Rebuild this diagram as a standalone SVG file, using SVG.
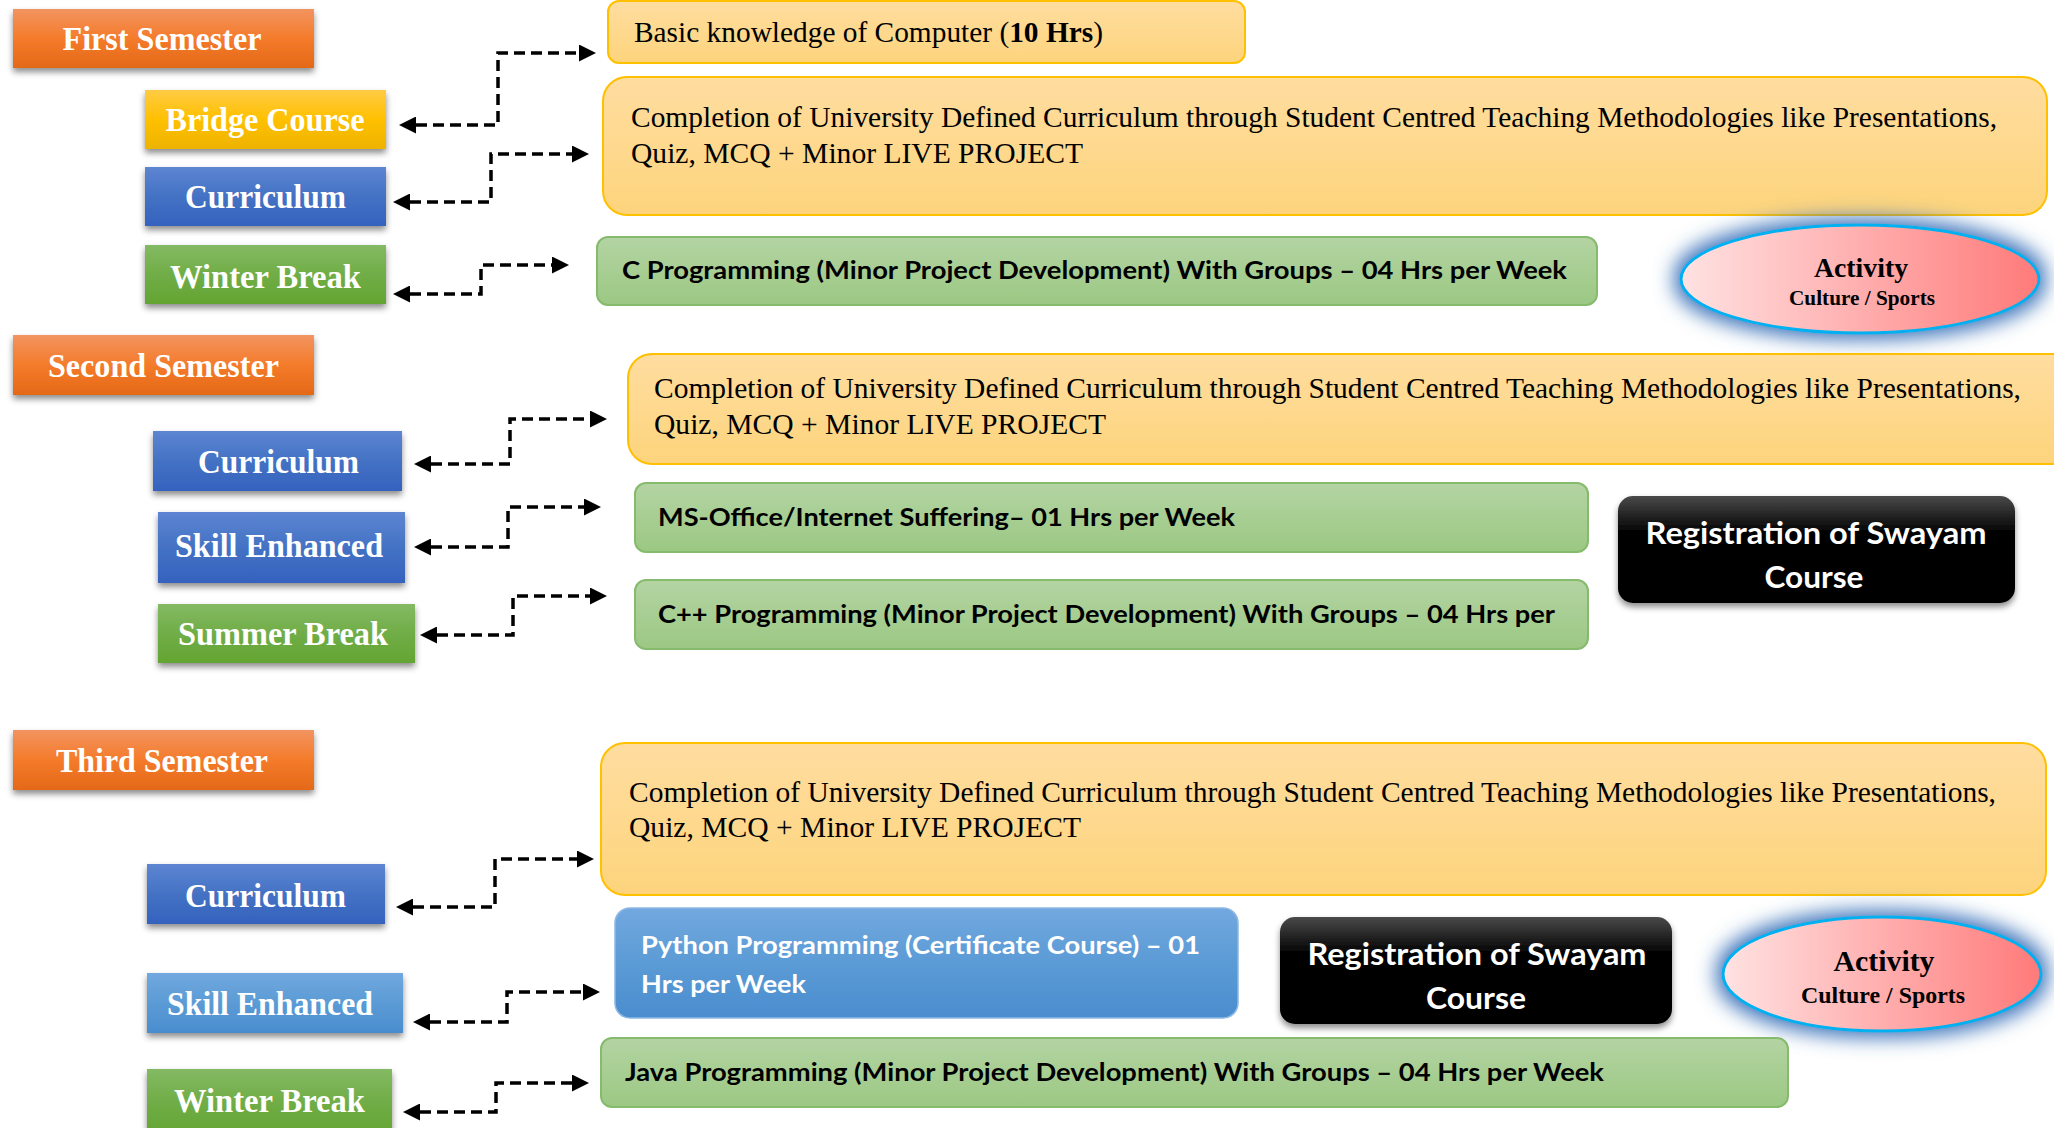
<svg xmlns="http://www.w3.org/2000/svg" width="2054" height="1128" viewBox="0 0 2054 1128">
<defs>
<linearGradient id="gOrange" x1="0" y1="0" x2="0" y2="1"><stop offset="0" stop-color="#F29460"/><stop offset="0.5" stop-color="#F47B2A"/><stop offset="1" stop-color="#E46918"/></linearGradient>
<linearGradient id="gYellow" x1="0" y1="0" x2="0" y2="1"><stop offset="0" stop-color="#FFCB45"/><stop offset="0.5" stop-color="#FFC000"/><stop offset="1" stop-color="#EDB300"/></linearGradient>
<linearGradient id="gBlue" x1="0" y1="0" x2="0" y2="1"><stop offset="0" stop-color="#5D85D2"/><stop offset="0.5" stop-color="#4472C4"/><stop offset="1" stop-color="#3462BE"/></linearGradient>
<linearGradient id="gGreen" x1="0" y1="0" x2="0" y2="1"><stop offset="0" stop-color="#84BA63"/><stop offset="0.5" stop-color="#70AD47"/><stop offset="1" stop-color="#63A532"/></linearGradient>
<linearGradient id="gLBlue" x1="0" y1="0" x2="0" y2="1"><stop offset="0" stop-color="#72A8DF"/><stop offset="0.5" stop-color="#5B9BD5"/><stop offset="1" stop-color="#4A8DCF"/></linearGradient>
<linearGradient id="gPeach" x1="0" y1="0" x2="0" y2="1"><stop offset="0" stop-color="#FFDDA0"/><stop offset="1" stop-color="#FDD47C"/></linearGradient>
<linearGradient id="gGreenBox" x1="0" y1="0" x2="0" y2="1"><stop offset="0" stop-color="#B4D4A3"/><stop offset="1" stop-color="#9BC883"/></linearGradient>
<linearGradient id="gBlack" x1="0" y1="0" x2="0" y2="1"><stop offset="0" stop-color="#4A4A4A"/><stop offset="0.35" stop-color="#000"/><stop offset="1" stop-color="#000"/></linearGradient>
<linearGradient id="gPink" x1="0" y1="0" x2="1" y2="0"><stop offset="0" stop-color="#FFE2E2"/><stop offset="1" stop-color="#FF7A7A"/></linearGradient>
<filter id="shadow" x="-10%" y="-20%" width="120%" height="160%"><feDropShadow dx="0" dy="4" stdDeviation="3" flood-color="#000" flood-opacity="0.45"/></filter>
<filter id="glow" x="-30%" y="-70%" width="160%" height="240%"><feMorphology in="SourceAlpha" operator="dilate" radius="5" result="d"/><feGaussianBlur in="d" stdDeviation="10" result="b"/><feFlood flood-color="#3A72BA" flood-opacity="1"/><feComposite in2="b" operator="in" result="g"/><feMerge><feMergeNode in="g"/><feMergeNode in="SourceGraphic"/></feMerge></filter>
<marker id="arr" markerUnits="userSpaceOnUse" markerWidth="17" markerHeight="17" refX="0" refY="8.5" orient="auto-start-reverse"><path d="M0,0 L17,8.5 L0,17 z" fill="#000"/></marker>
<style>
.lbl{font-family:"Liberation Serif","Times New Roman",serif;font-weight:bold;font-size:33px;fill:#fff;text-anchor:middle}
.body{font-family:"Liberation Serif","Times New Roman",serif;font-size:30px;fill:#000}
.sans{font-family:Lato,"Liberation Sans",sans-serif;font-weight:bold;font-size:25px;fill:#000}
.reg{font-family:Lato,"Liberation Sans",sans-serif;font-weight:bold;font-size:30px;fill:#fff;text-anchor:middle}
.act{font-family:"Liberation Serif","Times New Roman",serif;font-weight:bold;fill:#000;text-anchor:middle}
.peach{fill:url(#gPeach);stroke:#FFC000;stroke-width:2}
.gbox{fill:url(#gGreenBox);stroke:#86BA6C;stroke-width:2}
.conn{fill:none;stroke:#000;stroke-width:3.5;stroke-dasharray:11 6;marker-start:url(#arr);marker-end:url(#arr)}
</style>
</defs>
<rect width="2054" height="1128" fill="#fff"/>

<!-- First semester -->
<g id="first-semester"><rect x="13" y="9" width="301" height="59" fill="url(#gOrange)" filter="url(#shadow)"/><text class="lbl" x="162" y="50" textLength="199" lengthAdjust="spacingAndGlyphs">First Semester</text></g>
<g id="bridge-course"><rect x="145" y="90" width="241" height="59" fill="url(#gYellow)" filter="url(#shadow)"/><text class="lbl" x="265" y="131" textLength="199" lengthAdjust="spacingAndGlyphs">Bridge Course</text></g>
<g id="curriculum-1"><rect x="145" y="167" width="241" height="59" fill="url(#gBlue)" filter="url(#shadow)"/><text class="lbl" x="265.5" y="208" textLength="161" lengthAdjust="spacingAndGlyphs">Curriculum</text></g>
<g id="winter-break-1"><rect x="145" y="245" width="241" height="59" fill="url(#gGreen)" filter="url(#shadow)"/><text class="lbl" x="265.5" y="288" textLength="191" lengthAdjust="spacingAndGlyphs">Winter Break</text></g>

<g id="basic-knowledge"><rect class="peach" x="608" y="1" width="637" height="62" rx="11"/><text class="body" x="634" y="42" textLength="469" lengthAdjust="spacingAndGlyphs">Basic knowledge of Computer (<tspan font-weight="bold">10 Hrs</tspan>)</text></g>
<g id="curriculum-desc-1"><rect class="peach" x="603" y="77" width="1444" height="138" rx="24"/><text class="body" x="631" y="127" textLength="1366" lengthAdjust="spacingAndGlyphs">Completion of University Defined Curriculum through Student Centred Teaching Methodologies like Presentations,</text><text class="body" x="631" y="163" textLength="452" lengthAdjust="spacingAndGlyphs">Quiz, MCQ + Minor LIVE PROJECT</text></g>
<g id="c-programming"><rect class="gbox" x="597" y="237" width="1000" height="68" rx="11"/><text class="sans" x="622" y="279" textLength="945" lengthAdjust="spacingAndGlyphs">C Programming (Minor Project Development) With Groups – 04 Hrs per Week</text></g>
<g id="activity-1"><ellipse cx="1860" cy="279" rx="179" ry="54" fill="url(#gPink)" stroke="#00B0F0" stroke-width="3" filter="url(#glow)"/><text class="act" x="1861" y="277" font-size="27" textLength="94" lengthAdjust="spacingAndGlyphs">Activity</text><text class="act" x="1862" y="305" font-size="21" textLength="146" lengthAdjust="spacingAndGlyphs">Culture / Sports</text></g>

<!-- Second semester -->
<g id="second-semester"><rect x="13" y="335" width="301" height="60" fill="url(#gOrange)" filter="url(#shadow)"/><text class="lbl" x="163.5" y="377" textLength="231" lengthAdjust="spacingAndGlyphs">Second Semester</text></g>
<g id="curriculum-2"><rect x="153" y="431" width="249" height="60" fill="url(#gBlue)" filter="url(#shadow)"/><text class="lbl" x="278.5" y="473" textLength="161" lengthAdjust="spacingAndGlyphs">Curriculum</text></g>
<g id="skill-enhanced-2"><rect x="158" y="512" width="247" height="71" fill="url(#gBlue)" filter="url(#shadow)"/><text class="lbl" x="279" y="557" textLength="208" lengthAdjust="spacingAndGlyphs">Skill Enhanced</text></g>
<g id="summer-break"><rect x="158" y="604" width="257" height="59" fill="url(#gGreen)" filter="url(#shadow)"/><text class="lbl" x="283" y="645" textLength="210" lengthAdjust="spacingAndGlyphs">Summer Break</text></g>

<g id="curriculum-desc-2"><rect class="peach" x="628" y="354" width="1450" height="110" rx="24"/><text class="body" x="654" y="398" textLength="1367" lengthAdjust="spacingAndGlyphs">Completion of University Defined Curriculum through Student Centred Teaching Methodologies like Presentations,</text><text class="body" x="654" y="434" textLength="452" lengthAdjust="spacingAndGlyphs">Quiz, MCQ + Minor LIVE PROJECT</text></g>
<g id="ms-office"><rect class="gbox" x="635" y="483" width="953" height="69" rx="11"/><text class="sans" x="658" y="526" textLength="577" lengthAdjust="spacingAndGlyphs">MS-Office/Internet Suffering– 01 Hrs per Week</text></g>
<g id="cpp-programming"><rect class="gbox" x="635" y="580" width="953" height="69" rx="11"/><text class="sans" x="658" y="623" textLength="897" lengthAdjust="spacingAndGlyphs">C++ Programming (Minor Project Development) With Groups – 04 Hrs per</text></g>
<g id="swayam-1"><rect x="1618" y="496" width="397" height="107" rx="15" fill="url(#gBlack)" filter="url(#shadow)"/><text class="reg" x="1816" y="544" textLength="341" lengthAdjust="spacingAndGlyphs">Registration of Swayam</text><text class="reg" x="1814" y="588" textLength="99" lengthAdjust="spacingAndGlyphs">Course</text></g>

<!-- Third semester -->
<g id="third-semester"><rect x="13" y="730" width="301" height="60" fill="url(#gOrange)" filter="url(#shadow)"/><text class="lbl" x="162" y="772" textLength="212" lengthAdjust="spacingAndGlyphs">Third Semester</text></g>
<g id="curriculum-3"><rect x="147" y="864" width="238" height="60" fill="url(#gBlue)" filter="url(#shadow)"/><text class="lbl" x="265.5" y="907" textLength="161" lengthAdjust="spacingAndGlyphs">Curriculum</text></g>
<g id="skill-enhanced-3"><rect x="147" y="973" width="256" height="60" fill="url(#gLBlue)" filter="url(#shadow)"/><text class="lbl" x="270" y="1015" textLength="206" lengthAdjust="spacingAndGlyphs">Skill Enhanced</text></g>
<g id="winter-break-3"><rect x="147" y="1069" width="245" height="66" fill="url(#gGreen)" filter="url(#shadow)"/><text class="lbl" x="269.5" y="1112" textLength="191" lengthAdjust="spacingAndGlyphs">Winter Break</text></g>

<g id="curriculum-desc-3"><rect class="peach" x="601" y="743" width="1445" height="152" rx="24"/><text class="body" x="629" y="802" textLength="1367" lengthAdjust="spacingAndGlyphs">Completion of University Defined Curriculum through Student Centred Teaching Methodologies like Presentations,</text><text class="body" x="629" y="837" textLength="452" lengthAdjust="spacingAndGlyphs">Quiz, MCQ + Minor LIVE PROJECT</text></g>
<g id="python"><rect x="615" y="908" width="623" height="110" rx="15" fill="url(#gLBlue)" stroke="#8DB8E4" stroke-width="1.5"/><text class="sans" x="641" y="954" style="fill:#fff" textLength="559" lengthAdjust="spacingAndGlyphs">Python Programming (Certificate Course) – 01</text><text class="sans" x="641" y="993" style="fill:#fff" textLength="165" lengthAdjust="spacingAndGlyphs">Hrs per Week</text></g>
<g id="swayam-2"><rect x="1280" y="917" width="392" height="107" rx="15" fill="url(#gBlack)" filter="url(#shadow)"/><text class="reg" x="1477" y="965" textLength="339" lengthAdjust="spacingAndGlyphs">Registration of Swayam</text><text class="reg" x="1476" y="1009" textLength="100" lengthAdjust="spacingAndGlyphs">Course</text></g>
<g id="activity-2"><ellipse cx="1882" cy="974" rx="159" ry="57" fill="url(#gPink)" stroke="#00B0F0" stroke-width="3" filter="url(#glow)"/><text class="act" x="1884" y="971" font-size="29" textLength="101" lengthAdjust="spacingAndGlyphs">Activity</text><text class="act" x="1883" y="1003" font-size="23.5" textLength="164" lengthAdjust="spacingAndGlyphs">Culture / Sports</text></g>
<g id="java"><rect class="gbox" x="601" y="1038" width="1187" height="69" rx="11"/><text class="sans" x="625" y="1081" textLength="979" lengthAdjust="spacingAndGlyphs">Java Programming (Minor Project Development) With Groups – 04 Hrs per Week</text></g>

<g id="connectors">
<path class="conn" d="M416,125 H498 V53 H579"/>
<path class="conn" d="M410,202 H491 V154 H572"/>
<path class="conn" d="M410,294 H481 V265 H552"/>
<path class="conn" d="M431,464 H510 V419 H590"/>
<path class="conn" d="M431,547 H508 V507 H584"/>
<path class="conn" d="M437,635 H513 V596 H590"/>
<path class="conn" d="M413,907 H495 V859 H577"/>
<path class="conn" d="M430,1022 H507 V992 H583"/>
<path class="conn" d="M420,1112 H496 V1083 H572"/>
</g>
</svg>
